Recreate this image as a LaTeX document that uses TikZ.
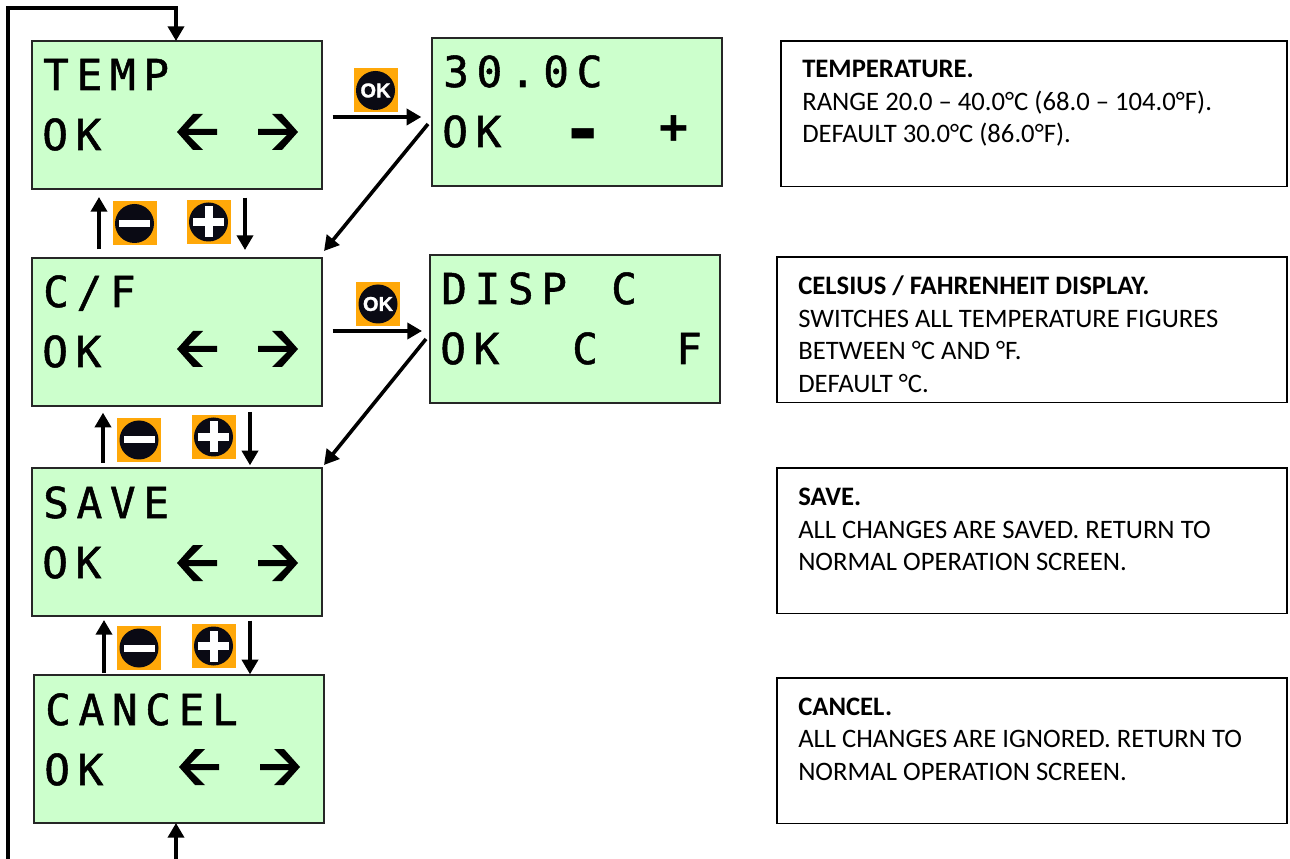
\documentclass[tikz,border=0pt]{standalone}
\usepackage{fontspec}
\setmainfont{Carlito}
\newfontfamily\lcdfont[LetterSpace=18,FakeBold=1.2]{DejaVu Sans Mono}
\newfontfamily\lcdsign[BoldFont={DejaVu Sans Mono Bold}]{DejaVu Sans Mono}
\newfontfamily\keyfont[BoldFeatures={FakeBold=1.5}]{Liberation Sans}
\usetikzlibrary{arrows.meta}
\definecolor{lcdgreen}{HTML}{CCFFCC}
\definecolor{keyorange}{HTML}{FFA809}
\definecolor{keyblack}{HTML}{0A0A14}
\tikzset{
  screen/.style={draw=black!85,line width=1.1pt,fill=lcdgreen,anchor=north west,inner sep=0pt,outer sep=0pt,minimum width=217.5pt,minimum height=111pt},
  notebox/.style={draw=black,line width=1.1pt,anchor=north west,inner sep=0pt,outer sep=0pt,minimum height=109pt},
  notetext/.style={anchor=north west,inner sep=0pt,align=left,font=\fontsize{20}{24.4}\selectfont},
  lcdtext/.style={anchor=base west,inner sep=0pt,font=\lcdfont\fontsize{32}{32}\selectfont},
  signtext/.style={anchor=base,inner sep=0pt,font=\lcdsign\bfseries\fontsize{#1}{#1}\selectfont},
  keybase/.style={fill=keyorange,inner sep=0pt,outer sep=0pt,minimum size=33pt,
    path picture={\fill[keyblack] (path picture bounding box.center) circle (19.5);}},
  keyok/.style={keybase,text=white,font=\keyfont\bfseries\fontsize{15}{15}\selectfont},
  keyminus/.style={keybase,path picture={
    \fill[keyblack] (path picture bounding box.center) circle (19.5);
    \fill[white] ([shift={(-15.5,-3.5)}]path picture bounding box.center) rectangle ++(31,7);}},
  keyplus/.style={keybase,path picture={
    \fill[keyblack] (path picture bounding box.center) circle (19.5);
    \fill[white] ([shift={(-15.5,-4)}]path picture bounding box.center) rectangle ++(31,8);
    \fill[white] ([shift={(-4,-15.5)}]path picture bounding box.center) rectangle ++(8,31);}},
  flow/.style={line width=2.7pt,-{Triangle[length=11pt,width=12pt]}},
  lcdleft/.pic={\fill (0,0) -- (16,-18) -- (26,-18) -- (11,-3) -- (40,-3) -- (40,3) -- (11,3) -- (26,18) -- (16,18) -- cycle;},
  lcdright/.pic={\fill (0,0) -- (-16,-18) -- (-26,-18) -- (-11,-3) -- (-40,-3) -- (-40,3) -- (-11,3) -- (-26,18) -- (-16,18) -- cycle;}
}
\begin{document}
\begin{tikzpicture}[x=0.75pt,y=-0.75pt]
  \path[use as bounding box] (0,0) rectangle (1290,859);
  % screens
  \node[screen] (tempbox) at (32,41) {};
  \node[screen] (valbox) at (432,38) {};
  \node[screen] (cfbox) at (32,258) {};
  \node[screen] (dispbox) at (430,255) {};
  \node[screen] (savebox) at (32,468) {};
  \node[screen] (cancelbox) at (34,675) {};
  % screen texts
  \node[lcdtext] (templine) at (43,90) {TEMP};
  \node[lcdtext] (tempok) at (42,150) {OK};
  \node[lcdtext] (valline) at (443,87) {30.0C};
  \node[lcdtext] (valok) at (442,147) {OK};
  \node[signtext=54] (valminus) at (583.5,155) {-};
  \node[signtext=36] (valplus) at (674,143.5) {+};
  \node[lcdtext] (cfline) at (43,307) {C/F};
  \node[lcdtext] (cfok) at (42,367) {OK};
  \node[lcdtext] (displine) at (441,304) {DISP};
  \node[lcdtext] (dispunit) at (611,304) {C};
  \node[lcdtext] (dispok) at (440,364) {OK};
  \node[lcdtext] (dispc) at (572,364) {C};
  \node[lcdtext] (dispf) at (676,364) {F};
  \node[lcdtext] (saveline) at (43,518) {SAVE};
  \node[lcdtext] (saveok) at (42,578) {OK};
  \node[lcdtext] (cancelline) at (45,725) {CANCEL};
  \node[lcdtext] (cancelok) at (44,785) {OK};
  \path (177,132) pic {lcdleft} (298,132) pic {lcdright};
  \path (177,349) pic {lcdleft} (298,349) pic {lcdright};
  \path (177,563) pic {lcdleft} (298,563) pic {lcdright};
  \path (179,767) pic {lcdleft} (300,767) pic {lcdright};
  % keys
  \node[keyok] (okA) at (375.5,90.5) {OK};
  \node[keyok] (okB) at (378,304) {OK};
  \node[keyminus] (minusA) at (134.5,223.5) {};
  \node[keyplus] (plusA) at (208.5,222) {};
  \node[keyminus] (minusB) at (139,440) {};
  \node[keyplus] (plusB) at (213.5,437) {};
  \node[keyminus] (minusC) at (139,648) {};
  \node[keyplus] (plusC) at (213.5,646) {};
  % free ends
  \coordinate (loopfoot) at (8,859);
  \coordinate (loopleft) at (8,8);
  \coordinate (loopright) at (176,8);
  \coordinate (entry) at (176,859);
  \coordinate (backA) at (428,124);
  \coordinate (backB) at (426,339);
  \coordinate (rowA) at (0,117);
  \coordinate (rowB) at (0,331);
  \coordinate (upA) at (99,0);
  \coordinate (downA) at (245,0);
  \coordinate (upB) at (103,0);
  \coordinate (downB) at (250,0);
  \coordinate (upC) at (104,0);
  \coordinate (downC) at (250,0);
  % connectors
  \draw[flow,line cap=butt] (loopfoot) -- (loopleft) -- (loopright) -- (tempbox.north -| loopright);
  \draw[flow] (entry) -- (cancelbox.south -| entry);
  \draw[flow,shorten <=8pt,shorten >=8pt] (tempbox.east |- rowA) -- (valbox.west |- rowA);
  \draw[flow,shorten <=8pt,shorten >=6pt] (cfbox.east |- rowB) -- (dispbox.west |- rowB);
  \draw[flow] (backA) -- ([shift={(2,-7)}]cfbox.north east);
  \draw[flow] (backB) -- ([shift={(2,-3)}]savebox.north east);
  \draw[flow,shorten <=6.5pt,shorten >=6pt] (cfbox.north -| upA) -- (tempbox.south -| upA);
  \draw[flow,shorten <=6.5pt,shorten >=6pt] (tempbox.south -| downA) -- (cfbox.north -| downA);
  \draw[flow,shorten <=4pt,shorten >=5pt] (savebox.north -| upB) -- (cfbox.south -| upB);
  \draw[flow,shorten <=4.5pt,shorten >=2pt] (cfbox.south -| downB) -- (savebox.north -| downB);
  \draw[flow,shorten <=1.5pt,shorten >=3pt] (cancelbox.north -| upC) -- (savebox.south -| upC);
  \draw[flow,shorten <=3.5pt,shorten >=0.5pt] (savebox.south -| downC) -- (cancelbox.north -| downC);
  % notes
  \node[notebox,minimum width=379.5pt] (tempnote) at (781,41) {};
  \node[notebox,minimum width=382.5pt] (cfnote) at (777,257) {};
  \node[notebox,minimum width=382.5pt] (savenote) at (777,468) {};
  \node[notebox,minimum width=382.5pt] (cancelnote) at (777,678) {};
  \node[notetext] (temptext) at (802,60) {\textbf{TEMPERATURE.}\\RANGE 20.0 – 40.0°C (68.0 – 104.0°F).\\DEFAULT 30.0°C (86.0°F).};
  \node[notetext] (cftext) at (798,275.5) {\textbf{CELSIUS / FAHRENHEIT DISPLAY.}\\SWITCHES ALL TEMPERATURE FIGURES\\BETWEEN °C AND °F.\\DEFAULT °C.};
  \node[notetext] (savetext) at (798,488) {\textbf{SAVE.}\\ALL CHANGES ARE SAVED. RETURN TO\\NORMAL OPERATION SCREEN.};
  \node[notetext] (canceltext) at (798,697.5) {\textbf{CANCEL.}\\ALL CHANGES ARE IGNORED. RETURN TO\\NORMAL OPERATION SCREEN.};
\end{tikzpicture}
\end{document}
